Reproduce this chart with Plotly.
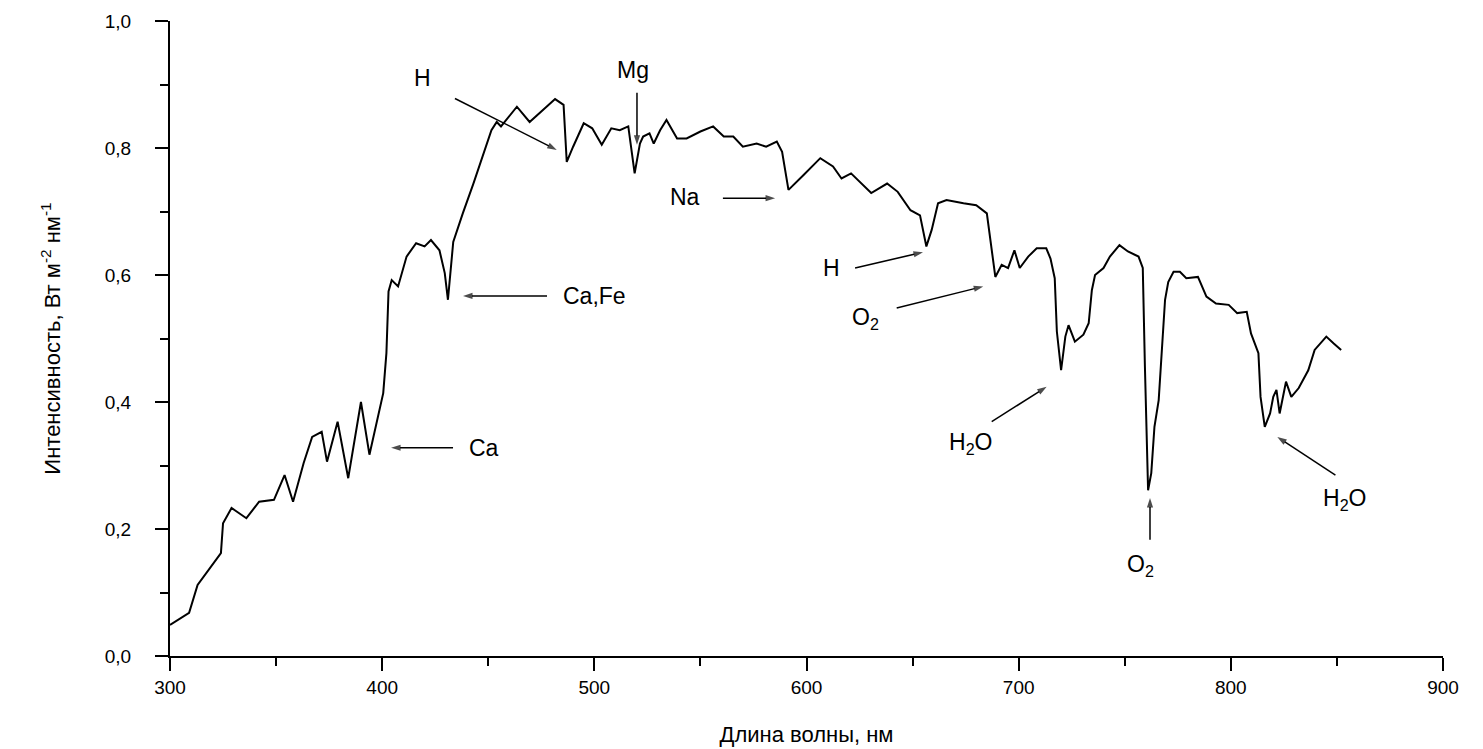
import plotly.graph_objects as go

# Solar spectrum
wavelength = [300, 309, 313, 324, 325, 329, 336, 342, 349, 354, 358, 363, 367, 371.5, 374, 379, 384,
              390, 394, 398, 400.5, 402, 403, 404.5, 407.5, 411.5, 416, 420, 423, 427, 429.5, 431,
              433.5, 438, 443, 451.5, 454, 456, 463.5, 469.5, 481.5, 485.5, 487, 490, 495, 499,
              503.5, 508, 512, 516, 517.5, 519, 521.5, 523, 526, 528, 531, 534, 539, 543.5, 550,
              556, 561, 565.5, 570, 576.5, 581, 586, 588.5, 591.5, 598.5, 606.5, 612.5, 616.5, 621,
              625, 630.5, 638, 643, 649, 653.5, 656.5, 659, 662, 666, 674, 680, 685, 687, 689, 692,
              695, 698, 700.5, 704.5, 708.5, 713, 715, 717, 718, 720, 722, 723.5, 726.5, 730.5, 733,
              734.5, 736, 740, 743, 747.5, 751.5, 756.5, 758.5, 759.5, 761, 762.5, 764, 766, 767.5,
              769, 770.5, 773, 776, 779, 784.5, 788.5, 793, 799, 803, 807.5, 809.5, 813, 814, 816,
              818.5, 820, 821.5, 823, 826, 828.5, 832, 836.5, 839.5, 845, 848.5, 852]
intensity = [0.049, 0.068, 0.112, 0.162, 0.209, 0.233, 0.217, 0.243, 0.246, 0.285, 0.243, 0.304,
             0.345, 0.353, 0.306, 0.369, 0.280, 0.400, 0.317, 0.377, 0.414, 0.477, 0.574, 0.592,
             0.582, 0.629, 0.650, 0.645, 0.655, 0.639, 0.603, 0.561, 0.652, 0.697, 0.744, 0.828,
             0.841, 0.834, 0.865, 0.841, 0.877, 0.868, 0.778, 0.802, 0.839, 0.831, 0.805, 0.831,
             0.828, 0.834, 0.797, 0.760, 0.807, 0.818, 0.823, 0.807, 0.828, 0.844, 0.815, 0.815,
             0.826, 0.834, 0.818, 0.818, 0.802, 0.807, 0.802, 0.810, 0.794, 0.734, 0.757, 0.784,
             0.771, 0.752, 0.760, 0.747, 0.729, 0.744, 0.731, 0.702, 0.694, 0.645, 0.671, 0.713,
             0.718, 0.713, 0.710, 0.697, 0.650, 0.597, 0.616, 0.611, 0.639, 0.611, 0.629, 0.642,
             0.642, 0.626, 0.595, 0.511, 0.450, 0.503, 0.521, 0.495, 0.506, 0.524, 0.576, 0.600,
             0.611, 0.629, 0.647, 0.637, 0.629, 0.611, 0.456, 0.261, 0.288, 0.361, 0.403, 0.482,
             0.561, 0.589, 0.605, 0.605, 0.595, 0.597, 0.566, 0.555, 0.553, 0.540, 0.542, 0.508,
             0.477, 0.408, 0.361, 0.382, 0.408, 0.419, 0.382, 0.432, 0.408, 0.422, 0.450, 0.482,
             0.503, 0.492, 0.482]

# Line labels
labels = ["H", "Mg", "Na", "Ca,Fe", "Ca", "H", "O<sub>2</sub>", "H<sub>2</sub>O",
          "O<sub>2</sub>", "H<sub>2</sub>O"]
label_x = [418.8, 518.2, 542.7, 500.1, 448.0, 612.0, 627.6, 677.1, 757.2, 853.8]
label_y = [0.910, 0.923, 0.723, 0.567, 0.328, 0.611, 0.532, 0.335, 0.143, 0.246]
tail_x = [434.3, 520.1, 560.6, 477.7, 433.4, 622.9, 642.5, 687.3, 761.9, 849.3]
tail_y = [0.878, 0.887, 0.721, 0.567, 0.328, 0.611, 0.548, 0.369, 0.183, 0.285]
head_x = [482.3, 520.1, 585.2, 438.1, 404.2, 654.9, 683.3, 713.2, 761.9, 821.9]
head_y = [0.797, 0.805, 0.721, 0.567, 0.328, 0.636, 0.582, 0.424, 0.249, 0.345]

FONT = "Liberation Sans, Arial, sans-serif"

fig = go.Figure()
fig.add_trace(go.Scatter(x=wavelength, y=intensity, mode="lines",
                         line=dict(color="black", width=2), showlegend=False,
                         hoverinfo="x+y"))

# arrows: line from tail to head with an arrow-shaped marker at the head
for tx, ty, hx, hy in zip(tail_x, tail_y, head_x, head_y):
    fig.add_trace(go.Scatter(x=[tx, hx], y=[ty, hy], mode="lines+markers",
                             line=dict(color="black", width=1.5),
                             marker=dict(symbol="arrow", size=[0, 10], angleref="previous",
                                         color="black", line=dict(width=0)),
                             showlegend=False, hoverinfo="skip"))

annotations = []
for t, lx, ly in zip(labels, label_x, label_y):
    annotations.append(dict(x=lx, y=ly, xref="x", yref="y", text=t, showarrow=False,
                            font=dict(family=FONT, size=23, color="black")))

fig.update_layout(
    width=1483, height=749,
    margin=dict(l=170, r=40, t=21, b=93),
    paper_bgcolor="white", plot_bgcolor="white",
    separators=", ",
    annotations=annotations,
    font=dict(family=FONT, color="black"),
)
fig.update_xaxes(range=[300, 900], dtick=100, tick0=300, showgrid=False, zeroline=False,
                 showline=True, linecolor="black", linewidth=2, automargin=False,
                 ticks="outside", ticklen=13, tickwidth=2, tickcolor="black",
                 tickfont=dict(size=19, family=FONT),
                 minor=dict(ticks="outside", dtick=50, ticklen=8, tickwidth=2, tickcolor="black"),
                 title=dict(text="Длина волны, нм", font=dict(size=22, family=FONT), standoff=30))
fig.update_yaxes(range=[0, 1], dtick=0.2, tickformat=".1f", showgrid=False, zeroline=False,
                 showline=True, linecolor="black", linewidth=2, automargin=False,
                 ticks="outside", ticklen=13, tickwidth=2, tickcolor="black",
                 tickfont=dict(size=19, family=FONT), ticklabelstandoff=20,
                 minor=dict(ticks="outside", dtick=0.1, ticklen=8, tickwidth=2, tickcolor="black"),
                 title=dict(text="Интенсивность, Вт м<sup>-2</sup> нм<sup>-1</sup>",
                            font=dict(size=22, family=FONT), standoff=38))

fig.write_html("out.html")
